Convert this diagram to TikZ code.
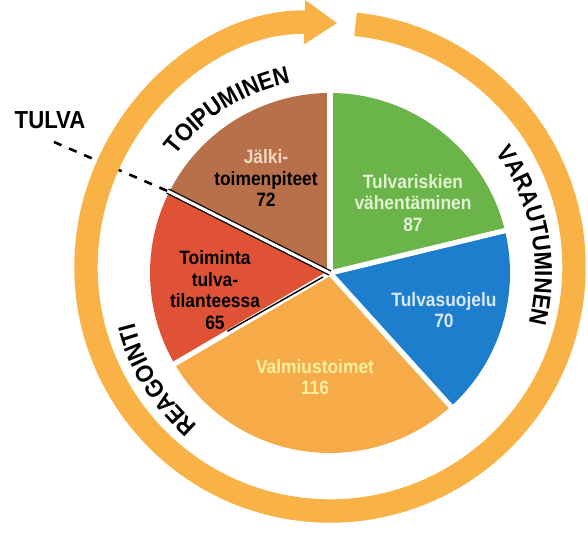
\documentclass[tikz,border=0pt]{standalone}
\usepackage{fontspec}
\setmainfont{Liberation Sans}
\newfontfamily\condfont{Liberation Sans}[FakeStretch=0.9]
\usetikzlibrary{arrows.meta,decorations.text}
\definecolor{ringor}{RGB}{248,178,70}
\definecolor{slgreen}{RGB}{106,180,74}
\definecolor{slblue}{RGB}{28,126,204}
\definecolor{slorange}{RGB}{246,170,72}
\definecolor{slred}{RGB}{224,82,54}
\definecolor{slbrown}{RGB}{184,112,74}
\definecolor{greenlt}{RGB}{226,242,210}
\definecolor{bluelt}{RGB}{215,232,248}
\definecolor{orangelt}{RGB}{255,240,160}
\definecolor{brownlt}{RGB}{245,215,195}
\newcommand{\arcfont}{\condfont\bfseries\fontsize{21}{21}\selectfont}
\newcommand{\piefont}{\condfont\bfseries\fontsize{16.5}{18.5}\selectfont}
\tikzset{
  pielbl/.style={align=center, font=\piefont, inner sep=0pt},
  gapline/.style={white, line width=4.5pt},
  arctext/.style={decorate, decoration={text along path, text align=center, text={|\arcfont|#1}}}
}
\begin{document}
\begin{tikzpicture}[x=0.03cm, y=0.03cm]
\useasboundingbox (-330,-264) rectangle (258,273);
\coordinate (c) at (0,0);
\coordinate (rc) at (0,6);
\coordinate (rb) at (153.22:182);
\coordinate (ro) at (209.6:118);
\coordinate (ri) at (209.6:8);
\coordinate (tulvatail) at (-276,131);

\draw[black, line width=2.2pt, dash pattern=on 7pt off 7pt] (tulvatail) -- (rb);
\draw[ringor, line width=20pt, -{Triangle[length=28pt, width=36pt]}] (rc) ++(84:244) arc[start angle=84, end angle=-271.7, radius=244];

\fill[slgreen] (c) -- (90:180) arc[start angle=90, end angle=13.61, radius=180] -- cycle;
\fill[slblue] (c) -- (13.61:180) arc[start angle=13.61, end angle=-47.85, radius=180] -- cycle;
\fill[slorange] (c) -- (-47.85:180) arc[start angle=-47.85, end angle=-149.71, radius=180] -- cycle;
\fill[slred] (c) -- (-149.71:180) arc[start angle=-149.71, end angle=-206.78, radius=180] -- cycle;
\fill[slbrown] (c) -- (153.22:180) arc[start angle=153.22, end angle=90, radius=180] -- cycle;
\draw[gapline] (c) -- (90:183);
\draw[gapline] (c) -- (13.61:183);
\draw[gapline] (c) -- (-47.85:183);
\draw[gapline] (c) -- (-149.71:183);
\draw[black, line width=1.1pt, double=white, double distance=2.6pt] (c) -- (rb);
\draw[black, line width=1.2pt] (ri) -- (ro);

\node[pielbl, text=black] (lbl72) at (-64,95) {\textcolor{brownlt}{Jälki-}\\toimenpiteet\\72};
\node[pielbl, text=greenlt] (lbl87) at (83,70) {Tulvariskien\\vähentäminen\\87};
\node[pielbl, text=bluelt] (lbl70) at (114,-37) {Tulvasuojelu\\70};
\node[pielbl, text=orangelt] (lbl116) at (-15,-104) {Valmiustoimet\\116};
\node[pielbl, text=black] (lbl65) at (-115,-17) {Toiminta\\tulva-\\tilanteessa\\65};

\path[arctext=TOIPUMINEN] (160:194) arc[start angle=160, end angle=84.4, radius=194];
\path[arctext=VARAUTUMINEN] (50:205) arc[start angle=50, end angle=-28.2, radius=205];
\path[arctext=REAGOINTI] (-110:202) arc[start angle=-110, end angle=-186.6, radius=202];
\node[font=\arcfont, inner sep=0pt] (tulva) at (-280,153) {TULVA};
\end{tikzpicture}
\end{document}
